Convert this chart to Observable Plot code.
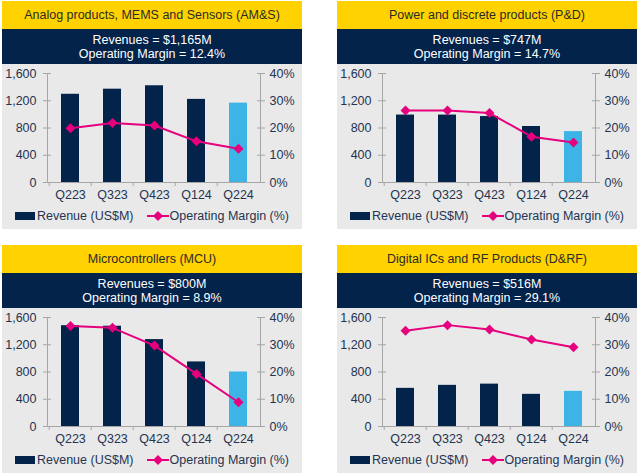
<!DOCTYPE html>
<html><head><meta charset="utf-8">
<script src="https://cdn.jsdelivr.net/npm/d3@7"></script>
<script src="https://cdn.jsdelivr.net/npm/@observablehq/plot@0.6"></script>
<style>
body{margin:0;background:#fff;font-family:"Liberation Sans",Arial,sans-serif;}
#root{position:relative;width:640px;height:475px;}
.panel{position:absolute;width:300px;}
.title{background:#FFD200;height:28px;line-height:28px;text-align:center;font-size:12.5px;color:#2a2a2a;}
.band{background:#03234B;height:35px;color:#fff;font-size:12.5px;text-align:center;line-height:14px;padding-top:4px;box-sizing:border-box;}
.gray{background:#E9E9E9;height:165px;position:relative;}
.gray svg{display:block;}
.legend{position:absolute;left:0;top:145px;width:100%;height:13px;display:flex;justify-content:center;align-items:center;font-size:12.5px;color:#253452;white-space:nowrap;}
.sw{display:inline-block;width:20px;height:8px;background:#03234B;margin-right:2px;}
.gap{display:inline-block;width:13px;}
</style>
</head><body>
<div id="root"></div>
<script>
const quarters = ["Q223","Q323","Q423","Q124","Q224"];
const panelTitles = ["Analog products, MEMS and Sensors (AM&S)","Power and discrete products (P&D)","Microcontrollers (MCU)","Digital ICs and RF Products (D&RF)"];
const revenueLabels = ["Revenues = $1,165M","Revenues = $747M","Revenues = $800M","Revenues = $516M"];
const marginLabels = ["Operating Margin = 12.4%","Operating Margin = 14.7%","Operating Margin = 8.9%","Operating Margin = 29.1%"];
const amsRevenue = [1295, 1370, 1420, 1220, 1165];
const amsMargin = [19.9, 21.8, 20.9, 15.1, 12.4];
const pdRevenue = [990, 990, 968, 822, 747];
const pdMargin = [26.4, 26.4, 25.5, 16.8, 14.7];
const mcuRevenue = [1480, 1472, 1276, 948, 800];
const mcuMargin = [36.9, 36.2, 29.7, 19.3, 8.9];
const drfRevenue = [560, 604, 622, 472, 516];
const drfMargin = [35.1, 37.2, 35.6, 31.9, 29.1];
const revenueTicks = [0, 400, 800, 1200, 1600];
const marginTicks = [0, 10, 20, 30, 40];
const legendRevenue = "Revenue (US$M)";
const legendMargin = "Operating Margin (%)";

const NAVY = "#03234B", LIGHT = "#3CB4E6", PINK = "#E6007E", AXIS = "#A6A6A6", TEXT = "#253452";
const series = [[amsRevenue, amsMargin],[pdRevenue, pdMargin],[mcuRevenue, mcuMargin],[drfRevenue, drfMargin]];
const positions = [[2,1],[337,1],[2,245],[337,245]];
const root = document.getElementById("root");
const W = 300, ML = 45, MR = 42;
const step = (W - ML - MR) / quarters.length;
const scaleK = 1600 / 40;
const blank = () => "";

series.forEach(([rev, mar], i) => {
  const rows = quarters.map((q, j) => ({q, rev: rev[j], margin: mar[j]}));
  const panel = document.createElement("div");
  panel.className = "panel";
  panel.style.left = positions[i][0] + "px";
  panel.style.top = positions[i][1] + "px";
  panel.innerHTML = `<div class="title">${panelTitles[i].replace(/&/g,"&amp;")}</div><div class="band">${revenueLabels[i]}<br>${marginLabels[i]}</div>`;
  const gray = document.createElement("div");
  gray.className = "gray";
  const chart = Plot.plot({
    width: W, height: 145,
    marginLeft: ML, marginRight: MR, marginTop: 9, marginBottom: 27,
    style: {background: "transparent", fontSize: "12.5px", fontFamily: "'Liberation Sans', Arial, sans-serif", color: TEXT},
    x: {domain: quarters, paddingInner: 0.58, paddingOuter: 0.29, axis: null},
    y: {domain: [0, 1600], axis: null},
    color: {type: "identity"},
    marks: [
      Plot.frame({anchor: "left", stroke: AXIS}),
      Plot.frame({anchor: "right", stroke: AXIS}),
      Plot.frame({anchor: "bottom", stroke: AXIS}),
      Plot.barY(rows, {x: "q", y: "rev", fill: d => d.q === quarters[quarters.length - 1] ? LIGHT : NAVY}),
      Plot.lineY(rows, {x: "q", y: d => d.margin * scaleK, stroke: PINK, strokeWidth: 2}),
      Plot.dot(rows, {x: "q", y: d => d.margin * scaleK, symbol: "diamond2", r: 4.5, fill: PINK, stroke: "none"}),
      Plot.axisY(revenueTicks, {tickSize: 8, dx: 4, stroke: AXIS, tickFormat: blank, label: null}),
      Plot.axisY(revenueTicks, {tickSize: 0, tickPadding: 11, tickFormat: d3.format(","), label: null}),
      Plot.axisY(marginTicks.map(m => m * scaleK), {anchor: "right", tickSize: 8, dx: -4, stroke: AXIS, tickFormat: blank, label: null}),
      Plot.axisY(marginTicks.map(m => m * scaleK), {anchor: "right", tickSize: 0, tickPadding: 9, tickFormat: d => (d / scaleK) + "%", label: null}),
      Plot.axisX({tickSize: 4, dx: -step / 2, stroke: AXIS, tickFormat: blank, label: null}),
      Plot.axisX({tickSize: 0, tickPadding: 8, label: null})
    ]
  });
  gray.appendChild(chart);
  const legend = document.createElement("div");
  legend.className = "legend";
  legend.innerHTML = `<span class="sw"></span><span>${legendRevenue}</span><span class="gap"></span>` +
    `<svg width="22" height="12" style="margin-right:1px"><line x1="0" y1="6" x2="22" y2="6" stroke="${PINK}" stroke-width="2"/><polygon points="11,1 16,6 11,11 6,6" fill="${PINK}"/></svg><span>${legendMargin}</span>`;
  gray.appendChild(legend);
  panel.appendChild(gray);
  root.appendChild(panel);
});
</script>
</body></html>
